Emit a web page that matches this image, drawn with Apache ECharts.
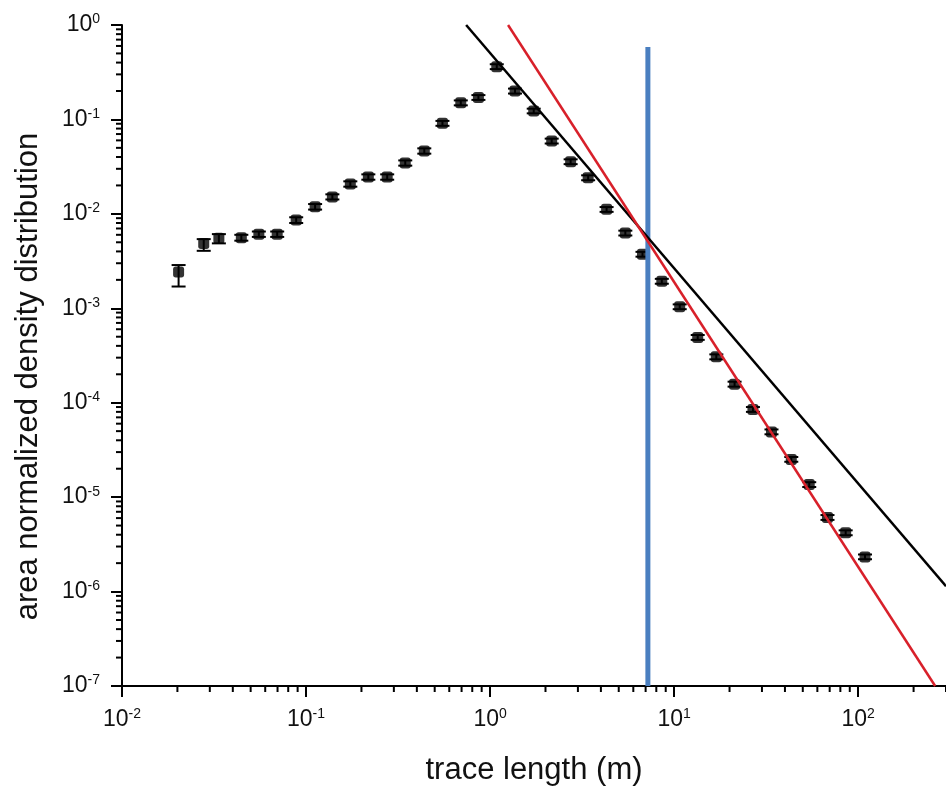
<!DOCTYPE html>
<html>
<head>
<meta charset="utf-8">
<script src="https://cdn.jsdelivr.net/npm/echarts@6/dist/echarts.min.js"></script>
<style>
  html, body { margin: 0; padding: 0; background: #fff; }
  #chart { width: 946px; height: 792px; }
</style>
</head>
<body>
<div id="chart"></div>
<script>
// ---- data ----
var traceLength = [0.0203, 0.0278, 0.0336, 0.0445, 0.0554, 0.0697, 0.0884, 0.112, 0.139, 0.174,
  0.218, 0.276, 0.346, 0.439, 0.551, 0.693, 0.864, 1.087, 1.366, 1.726,
  2.161, 2.739, 3.41, 4.295, 5.43, 6.73, 8.57, 10.72, 13.43, 16.95,
  21.3, 26.8, 33.8, 43.3, 54.2, 68.1, 85.5, 108.9];
var density = [0.00242, 0.00484, 0.0055, 0.00558, 0.00607, 0.00607, 0.00859, 0.0119, 0.0151, 0.0207,
  0.0245, 0.0245, 0.0345, 0.0463, 0.0909, 0.150, 0.171, 0.362, 0.200, 0.123,
  0.0590, 0.0356, 0.0241, 0.01116, 0.00626, 0.00373, 0.00193, 0.001037, 0.000491, 0.000306,
  0.000157, 8.49e-5, 4.91e-5, 2.51e-5, 1.36e-5, 6.09e-6, 4.19e-6, 2.33e-6];
var densityHigh = [0.00287, 0.0054, 0.0061, 0.0060, 0.0065, 0.0065, 0.0092, 0.0127, 0.0161, 0.0221,
  0.0262, 0.0262, 0.0368, 0.0494, 0.0965, 0.159, 0.181, 0.384, 0.212, 0.130,
  0.0626, 0.0378, 0.0256, 0.0118, 0.00664, 0.00396, 0.00205, 0.00110, 0.000521, 0.000325,
  0.000167, 9.0e-5, 5.21e-5, 2.66e-5, 1.44e-5, 6.46e-6, 4.45e-6, 2.47e-6];
var densityLow = [0.00170, 0.00406, 0.00487, 0.0052, 0.0057, 0.0057, 0.0080, 0.0111, 0.0142, 0.0194,
  0.0230, 0.0230, 0.0324, 0.0434, 0.0856, 0.141, 0.161, 0.341, 0.188, 0.116,
  0.0556, 0.0336, 0.0227, 0.0105, 0.00590, 0.00352, 0.00182, 0.000978, 0.000463, 0.000288,
  0.000148, 8.0e-5, 4.63e-5, 2.37e-5, 1.28e-5, 5.74e-6, 3.95e-6, 2.20e-6];
// fitted power laws (end points)
var blackFit = [[0.741, 1], [300, 1.14e-6]];
var redFit = [[1.252, 1], [262, 1e-7]];
var cutoffLine = [[7.2, 1e-7], [7.2, 0.585]];
// axes
var xRange = [0.01, 300];
var yRange = [1e-7, 1];
var xDecades = [-2, -1, 0, 1, 2];
var yDecades = [-7, -6, -5, -4, -3, -2, -1];

// ---- build ----
var FONT = 'Liberation Sans, Arial, sans-serif';
var pts = traceLength.map(function (x, i) { return [x, density[i]]; });
var errs = traceLength.map(function (x, i) { return [x, densityHigh[i], densityLow[i]]; });
var xMinor = [], yMinor = [];
xDecades.forEach(function (e) {
  for (var k = 2; k <= 9; k++) { var v = k * Math.pow(10, e); if (v <= xRange[1]) xMinor.push([v, yRange[0]]); }
});
yDecades.forEach(function (e) {
  for (var k = 2; k <= 9; k++) { yMinor.push([xRange[0], k * Math.pow(10, e)]); }
});

function decadeLabel(v) {
  var l = Math.log10(v), e = Math.round(l);
  if (Math.abs(l - e) > 1e-6) return '';
  return '{b|10}{s|' + e + '}';
}
var richLabel = {
  b: { fontSize: 23, fontFamily: FONT, color: '#111', lineHeight: 25 },
  s: { fontSize: 14, fontFamily: FONT, color: '#111', verticalAlign: 'top', lineHeight: 12 }
};

var chart = echarts.init(document.getElementById('chart'), null, { renderer: 'canvas' });
chart.setOption({
  animation: false,
  backgroundColor: '#fff',
  grid: { left: 122, right: -2, top: 25, bottom: 106, containLabel: false },
  xAxis: {
    type: 'log', logBase: 10, min: xRange[0], max: xRange[1],
    name: 'trace length (m)', nameLocation: 'middle', nameGap: 69,
    nameTextStyle: { fontSize: 31, fontFamily: FONT, color: '#111' },
    axisLine: { lineStyle: { color: '#000', width: 2 } },
    axisTick: { show: true, inside: false, length: 11, lineStyle: { color: '#000', width: 2 } },
    axisLabel: { formatter: decadeLabel, rich: richLabel, margin: 21, showMaxLabel: false },
    splitLine: { show: false }, minorTick: { show: false }
  },
  yAxis: {
    type: 'log', logBase: 10, min: yRange[0], max: yRange[1],
    name: 'area normalized density distribution', nameLocation: 'middle', nameGap: 78,
    nameTextStyle: { fontSize: 31, fontFamily: FONT, color: '#111', padding: [0, 42, 0, 0] },
    axisLine: { lineStyle: { color: '#000', width: 2 } },
    axisTick: { show: true, inside: false, length: 11, lineStyle: { color: '#000', width: 2 } },
    axisLabel: { formatter: decadeLabel, rich: richLabel, margin: 22 },
    splitLine: { show: false }, minorTick: { show: false }
  },
  series: [
    { // x minor ticks
      type: 'custom', silent: true, clip: false, data: xMinor, encode: { x: 0, y: 1 },
      renderItem: function (params, api) {
        var p = api.coord([api.value(0), api.value(1)]);
        return { type: 'line', shape: { x1: p[0], y1: p[1], x2: p[0], y2: p[1] + 6 }, style: { stroke: '#000', lineWidth: 2 } };
      }
    },
    { // y minor ticks
      type: 'custom', silent: true, clip: false, data: yMinor, encode: { x: 0, y: 1 },
      renderItem: function (params, api) {
        var p = api.coord([api.value(0), api.value(1)]);
        return { type: 'line', shape: { x1: p[0], y1: p[1], x2: p[0] - 6, y2: p[1] }, style: { stroke: '#000', lineWidth: 2 } };
      }
    },
    { // error bars
      type: 'custom', silent: true, data: errs, encode: { x: 0, y: [1, 2] }, z: 3,
      renderItem: function (params, api) {
        var x = api.value(0);
        var hi = api.coord([x, api.value(1)]), lo = api.coord([x, api.value(2)]);
        var st = { stroke: '#000', lineWidth: 2 };
        return { type: 'group', children: [
          { type: 'line', shape: { x1: hi[0], y1: hi[1], x2: lo[0], y2: lo[1] }, style: st },
          { type: 'line', shape: { x1: hi[0] - 7, y1: hi[1], x2: hi[0] + 7, y2: hi[1] }, style: st },
          { type: 'line', shape: { x1: lo[0] - 7, y1: lo[1], x2: lo[0] + 7, y2: lo[1] }, style: st }
        ] };
      }
    },
    {
      type: 'scatter', data: pts, symbol: 'roundRect', symbolSize: 11, z: 4,
      itemStyle: { color: '#000' }
    },
    {
      type: 'line', data: cutoffLine, symbol: 'none', z: 5,
      lineStyle: { color: '#4a7fc0', width: 5 }
    },
    {
      type: 'line', data: blackFit, symbol: 'none', z: 6,
      lineStyle: { color: '#000', width: 2.5 }
    },
    {
      type: 'line', data: redFit, symbol: 'none', z: 6,
      lineStyle: { color: '#d8202a', width: 2.5 }
    }
  ]
});
</script>
</body>
</html>
